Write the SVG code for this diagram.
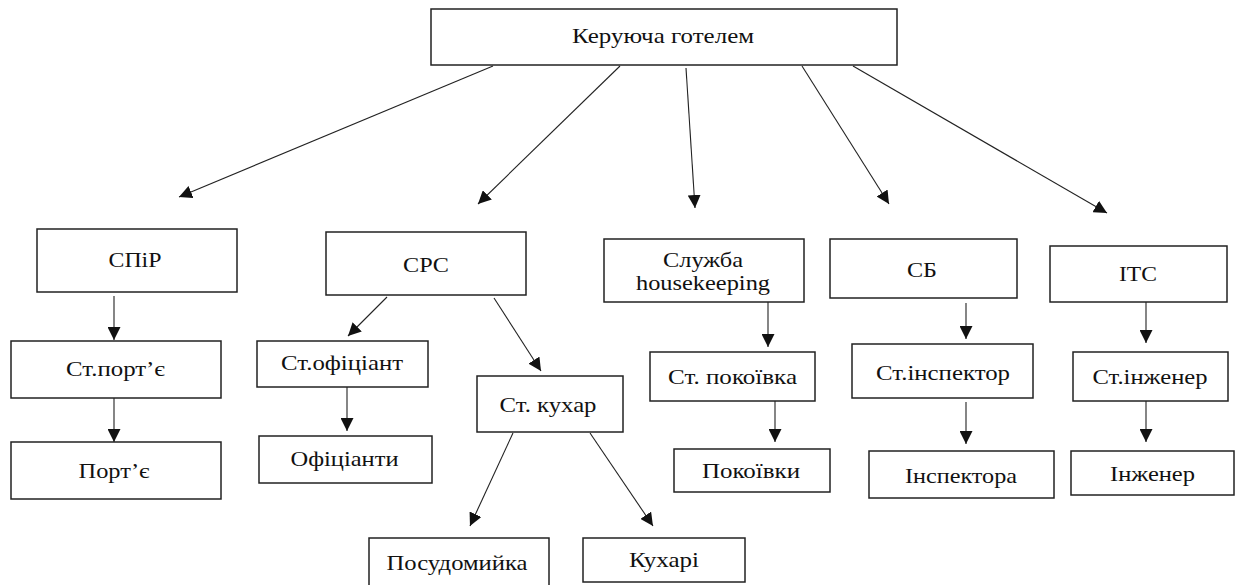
<svg xmlns="http://www.w3.org/2000/svg" width="1236" height="585" viewBox="0 0 1236 585">
<style>
.box{fill:#fff;stroke:#222;stroke-width:1.5}
.t{font-family:'Liberation Serif',serif;font-size:22px;fill:#111;text-anchor:middle}
.c{stroke:#222;stroke-width:1.1;fill:none;marker-end:url(#ah)}
</style>
<defs>
<marker id="ah" markerUnits="userSpaceOnUse" markerWidth="13" markerHeight="13" refX="13" refY="6.5" orient="auto">
<path d="M0,0 L13,6.5 L0,13 z" fill="#111"/>
</marker>
</defs>
<rect width="1236" height="585" fill="#fff"/>
<g id="connectors">
<line class="c" x1="493" y1="66" x2="179" y2="197"/>
<line class="c" x1="620" y1="66" x2="478" y2="204"/>
<line class="c" x1="686" y1="68" x2="695" y2="208"/>
<line class="c" x1="802" y1="66" x2="889" y2="204"/>
<line class="c" x1="853" y1="66" x2="1107" y2="213"/>
<line class="c" x1="114" y1="296" x2="114" y2="340"/>
<line class="c" x1="114" y1="398" x2="114" y2="442"/>
<line class="c" x1="387" y1="297" x2="348" y2="336"/>
<line class="c" x1="494" y1="298" x2="541" y2="371"/>
<line class="c" x1="347" y1="387" x2="347" y2="431"/>
<line class="c" x1="513" y1="433" x2="470" y2="526"/>
<line class="c" x1="590" y1="433" x2="653" y2="526"/>
<line class="c" x1="768" y1="302" x2="768" y2="347"/>
<line class="c" x1="775" y1="397" x2="775" y2="442"/>
<line class="c" x1="966" y1="303" x2="966" y2="339"/>
<line class="c" x1="966" y1="402" x2="966" y2="444"/>
<line class="c" x1="1146" y1="302" x2="1146" y2="343"/>
<line class="c" x1="1146" y1="400" x2="1146" y2="442"/>
</g>
<g id="n-top"><rect class="box" x="431" y="9" width="466" height="56"/><text class="t" x="663" y="43" textLength="182" lengthAdjust="spacingAndGlyphs">Керуюча готелем</text></g>
<g id="n-spir"><rect class="box" x="37" y="229" width="200" height="63"/><text class="t" x="135" y="267" textLength="53" lengthAdjust="spacingAndGlyphs">СПіР</text></g>
<g id="n-src"><rect class="box" x="326" y="232" width="200" height="63"/><text class="t" x="426" y="272" textLength="46" lengthAdjust="spacingAndGlyphs">СРС</text></g>
<g id="n-hk"><rect class="box" x="604" y="239" width="200" height="63"/><text class="t" x="703" y="267" textLength="80" lengthAdjust="spacingAndGlyphs">Служба</text><text class="t" x="703" y="290" textLength="134" lengthAdjust="spacingAndGlyphs">housekeeping</text></g>
<g id="n-sb"><rect class="box" x="830" y="239" width="187" height="59"/><text class="t" x="922" y="277" textLength="30" lengthAdjust="spacingAndGlyphs">СБ</text></g>
<g id="n-its"><rect class="box" x="1050" y="246" width="177" height="56"/><text class="t" x="1138" y="281" textLength="38" lengthAdjust="spacingAndGlyphs">ІТС</text></g>
<g id="n-stport"><rect class="box" x="11" y="341" width="210" height="57"/><text class="t" x="115.5" y="376" textLength="99" lengthAdjust="spacingAndGlyphs">Ст.порт’є</text></g>
<g id="n-port"><rect class="box" x="11" y="442" width="210" height="57"/><text class="t" x="114" y="478" textLength="71" lengthAdjust="spacingAndGlyphs">Порт’є</text></g>
<g id="n-stof"><rect class="box" x="257" y="341" width="171" height="46"/><text class="t" x="342" y="370" textLength="122" lengthAdjust="spacingAndGlyphs">Ст.офіціант</text></g>
<g id="n-of"><rect class="box" x="259" y="436" width="173" height="47"/><text class="t" x="344.5" y="466" textLength="108" lengthAdjust="spacingAndGlyphs">Офіціанти</text></g>
<g id="n-stkuh"><rect class="box" x="477" y="376" width="146" height="56"/><text class="t" x="548" y="412" textLength="97" lengthAdjust="spacingAndGlyphs">Ст. кухар</text></g>
<g id="n-posud"><rect class="box" x="369" y="538" width="180" height="52"/><text class="t" x="457" y="570" textLength="141" lengthAdjust="spacingAndGlyphs">Посудомийка</text></g>
<g id="n-kuh"><rect class="box" x="583" y="538" width="162" height="44"/><text class="t" x="664" y="567" textLength="70" lengthAdjust="spacingAndGlyphs">Кухарі</text></g>
<g id="n-stpok"><rect class="box" x="650" y="352" width="165" height="49"/><text class="t" x="732.5" y="384" textLength="129" lengthAdjust="spacingAndGlyphs">Ст. покоївка</text></g>
<g id="n-pok"><rect class="box" x="674" y="449" width="156" height="43"/><text class="t" x="751" y="478" textLength="98" lengthAdjust="spacingAndGlyphs">Покоївки</text></g>
<g id="n-stinsp"><rect class="box" x="852" y="344" width="181" height="54"/><text class="t" x="943" y="380" textLength="134" lengthAdjust="spacingAndGlyphs">Ст.інспектор</text></g>
<g id="n-insp"><rect class="box" x="869" y="451" width="185" height="47"/><text class="t" x="961" y="483" textLength="112" lengthAdjust="spacingAndGlyphs">Інспектора</text></g>
<g id="n-sting"><rect class="box" x="1073" y="352" width="155" height="49"/><text class="t" x="1150" y="384" textLength="115" lengthAdjust="spacingAndGlyphs">Ст.інженер</text></g>
<g id="n-ing"><rect class="box" x="1071" y="451" width="163" height="44"/><text class="t" x="1152.5" y="481" textLength="85" lengthAdjust="spacingAndGlyphs">Інженер</text></g>
</svg>
